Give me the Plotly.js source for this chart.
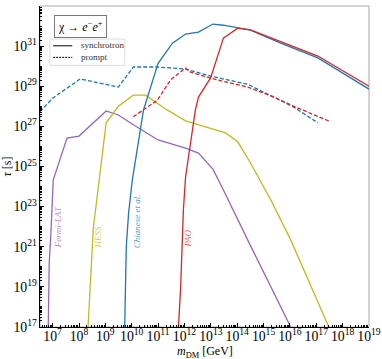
<!DOCTYPE html>
<html>
<head>
<meta charset="utf-8">
<script src="https://cdn.plot.ly/plotly-3.0.1.min.js"></script>
<style>
  html, body { margin:0; padding:0; background:#fff; }
  #chart { width:382px; height:359px; }
</style>
</head>
<body>
<div id="chart"></div>
<script>

/* ==========================================
   DATA  (m_DM in GeV, tau in s)
========================================== */

const fermiM   = [6.8e6, 7.4e6, 8.7e6, 1.05e7, 3.5e7, 1.0e8, 1.07e9, 3.1e9, 1.15e10, 1.0e11, 1.1e12, 3.4e12, 1.2e13, 3.0e13, 2.5e14, 1.07e16];
const fermiTau = [1e17, 1.5e20, 6.8e21, 2.1e24, 2.6e26, 3.3e26, 5.9e27, 3.7e27, 1.2e27, 2.1e26, 8.3e25, 4.7e25, 7.4e24, 6.8e23, 2.2e21, 1e17];

const hessM   = [2.2e8, 3.0e8, 3.5e8, 4.1e8, 5.9e8, 1.07e9, 3.1e9, 1.15e10, 3.3e10, 2.2e11, 1.1e12, 8.1e12, 3.6e13, 1.05e14, 3.2e14, 1.9e15, 1.07e16, 3.0e17];
const hessTau = [1e17, 2.2e20, 9.5e21, 4.8e22, 2.1e24, 1.5e27, 1.0e28, 3.6e28, 3.6e28, 6.6e27, 1.9e27, 8.3e26, 4.7e26, 1.7e26, 1.5e25, 2.1e23, 2.2e21, 1e17];

const chianeseSynM   = [5.4e9, 6.2e9, 7.6e9, 1.05e10, 2.8e10, 1.0e11, 3.5e11, 1.1e12, 3.4e12, 1.2e13, 3.0e13, 3.2e14, 4.5e15, 1.15e17, 1e19];
const chianeseSynTau = [1e17, 9.8e20, 4.8e22, 2.1e24, 6.6e27, 1.4e30, 1.4e31, 4.0e31, 5.0e31, 1.26e32, 1.1e32, 6.3e31, 1.4e31, 2.6e30, 7.2e28];

const chianesePromptM   = [3.3e6, 1.02e7, 1.1e8, 3.1e9, 1.15e10, 9.3e10, 1.1e12, 9.8e12, 2.5e14, 2.5e15, 1.4e16, 1.15e17];
const chianesePromptTau = [5.4e27, 2.6e28, 2.3e29, 9.1e28, 9.1e29, 9.1e29, 7.2e29, 3.2e29, 1.26e29, 2.9e28, 9.1e27, 1.5e27];

const paoSynM   = [5.9e11, 7.1e11, 8.3e11, 9.1e11, 1.1e12, 1.7e12, 2.6e12, 3.4e12, 9.8e12, 3.0e13, 1.05e14, 3.2e14, 4.5e15, 1.15e17, 1e19];
const paoSynTau = [1e17, 6.9e18, 2.2e21, 6.8e22, 3.0e24, 1.5e26, 6.6e27, 2.9e28, 2.6e29, 2.5e31, 7.9e31, 6.5e31, 1.65e31, 3.2e30, 1.0e29];

const paoPromptM   = [1.15e10, 9.3e10, 3.0e11, 1.1e12, 1.7e12, 1.26e13, 2.5e14, 2.5e15, 1.4e16, 3.5e17];
const paoPromptTau = [3.0e27, 2.0e28, 2.1e29, 8.1e29, 5.1e29, 2.3e29, 9.1e28, 2.9e28, 1.0e28, 1.7e27];

const labelNames = ["Fermi-LAT", "HESS", "Chianese et al.", "PAO"];
const labelM     = [1.6e7, 5.4e8, 1.6e10, 1.4e12];
const labelTau   = [9.5e21, 3.0e21, 1.9e22, 2.7e21];

const legendNames = ["synchrotron", "prompt"];

const PURPLE = "#9467bd";
const OLIVE  = "#bcbd22";
const BLUE   = "#1f77b4";
const RED    = "#d62728";

const SERIF = "Liberation Serif";


/* ==========================================
   TRACES
========================================== */

function line(x, y, color, dash){

    return{

        x:x,

        y:y,

        mode:"lines",

        line:{color:color, width:1.3, dash:dash || "solid"},

        showlegend:false,

        hoverinfo:"skip"

    };

}

const traces = [

    line(fermiM, fermiTau, PURPLE),

    line(hessM, hessTau, OLIVE),

    line(chianeseSynM, chianeseSynTau, BLUE),

    line(chianesePromptM, chianesePromptTau, BLUE, "4px,2px"),

    line(paoSynM, paoSynTau, RED),

    line(paoPromptM, paoPromptTau, RED, "4px,2px")

];


/* ==========================================
   LABELS
========================================== */

const labelColors = [PURPLE, OLIVE, BLUE, RED];

let annotations = labelNames.map((name,i)=>{

    return{

        x:Math.log10(labelM[i]),

        y:Math.log10(labelTau[i]),

        xref:"x", yref:"y",

        text:"<i>"+name+"</i>",

        textangle:-90,

        showarrow:false,

        opacity:0.75,

        font:{family:SERIF, size:9, color:labelColors[i]}

    };

});

// decay channel box
annotations.push({

    x:0.122, y:0.936,

    xref:"paper", yref:"paper",

    xanchor:"center", yanchor:"middle",

    text:"χ → <i>e</i><sup>−</sup><i>e</i><sup>+</sup>",

    showarrow:false,

    bordercolor:"#777",

    borderwidth:1,

    borderpad:3,

    font:{family:SERIF, size:12, color:"black"}

});

// x axis title
annotations.push({

    x:0.5, y:-0.079,

    xref:"paper", yref:"paper",

    xanchor:"center", yanchor:"middle",

    text:"<i>m</i><sub>DM</sub> [GeV]",

    showarrow:false,

    font:{family:SERIF, size:12, color:"black"}

});


/* ==========================================
   FRAME + LEGEND (drawn by hand, compact)
========================================== */

const shapes = [

    {
        type:"rect", xref:"paper", yref:"paper",
        x0:0, x1:1, y0:0, y1:1,
        layer:"below",
        line:{color:"#aaa", width:1}
    },

    {
        type:"rect", xref:"paper", yref:"paper",
        x0:0.03, x1:0.258, y0:0.815, y1:0.897,
        line:{color:"#ddd", width:1}, fillcolor:"rgba(255,255,255,0.8)"
    },

    {
        type:"line", xref:"paper", yref:"paper",
        x0:0.04, x1:0.098, y0:0.876, y1:0.876,
        line:{color:"black", width:1}
    },

    {
        type:"line", xref:"paper", yref:"paper",
        x0:0.04, x1:0.098, y0:0.84, y1:0.84,
        line:{color:"black", width:1, dash:"2px,1px"}
    }

];

legendNames.forEach((name,i)=>{

    annotations.push({

        x:0.118, y:[0.878, 0.842][i],

        xref:"paper", yref:"paper",

        xanchor:"left", yanchor:"middle",

        text:name,

        showarrow:false,

        font:{family:SERIF, size:9, color:"#333"}

    });

});


/* ==========================================
   LAYOUT
========================================== */

const axisFont = {family:SERIF, size:11, color:"black"};

const layout = {

    width:382,

    height:359,

    margin:{l:40, r:13, t:6, b:32},

    paper_bgcolor:"white",

    plot_bgcolor:"rgba(0,0,0,0)",

    font:axisFont,

    showlegend:false,

    xaxis:{

        type:"log",

        range:[6.52, 19],

        dtick:1,

        exponentformat:"power",

        ticks:"inside",

        ticklen:4,

        tickcolor:"black",

        ticklabelstandoff:-3,

        showgrid:false,

        zeroline:false,

        showline:true,

        linecolor:"black",

        linewidth:1,

        minor:{ticks:"inside", ticklen:2, dtick:"D1", tickcolor:"black", showgrid:false},

        tickfont:axisFont

    },

    yaxis:{

        type:"log",

        range:[17, 33],

        tick0:17,

        dtick:2,

        exponentformat:"power",

        ticks:"inside",

        ticklen:4,

        tickcolor:"black",

        showgrid:false,

        zeroline:false,

        showline:true,

        linecolor:"black",

        linewidth:1,

        minor:{ticks:"inside", ticklen:2, dtick:"D1", tickcolor:"black", showgrid:false},

        tickfont:axisFont,

        title:{text:"<i>τ</i> [s]", font:{family:SERIF, size:12}, standoff:2}

    },

    shapes:shapes,

    annotations:annotations

};

Plotly.newPlot("chart", traces, layout, {staticPlot:true});

</script>
</body>
</html>
